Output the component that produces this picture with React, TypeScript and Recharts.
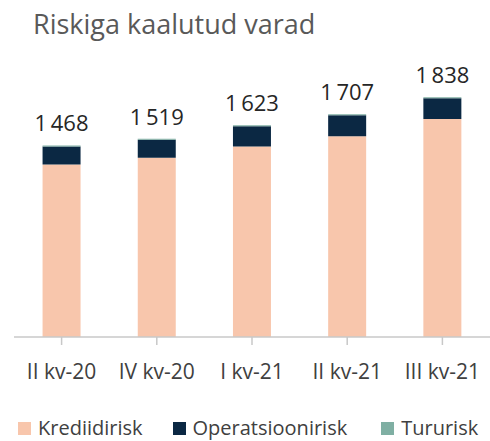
import React from 'react';
import { BarChart, Bar, XAxis, YAxis, LabelList, Legend } from 'recharts';

const categories = ['II kv-20', 'IV kv-20', 'I kv-21', 'II kv-21', 'III kv-21'];
const krediidirisk = [1322, 1373, 1460, 1539, 1670];
const operatsioonirisk = [138, 138, 155, 160, 160];
const tururisk = [8, 8, 8, 8, 8];
const totals = [1468, 1519, 1623, 1707, 1838];

const seriesNames = ['Krediidirisk', 'Operatsioonirisk', 'Tururisk'];
const colors = ['#F8C6AC', '#0B2843', '#7FAFA3'];

const data = categories.map((c, i) => ({
  name: c,
  k: krediidirisk[i],
  o: operatsioonirisk[i],
  t: tururisk[i],
  total: totals[i],
}));

const fmt = (v: number) => {
  const s = String(v);
  return s.length > 3 ? s.slice(0, s.length - 3) + '\u2009' + s.slice(-3) : s;
};

const FONT = '"Open Sans", Calibri, sans-serif';

const LegendContent = () => (
  <div style={{ display: 'flex', fontFamily: FONT, fontSize: 20, lineHeight: '22px', color: '#404040', whiteSpace: 'nowrap' }}>
    {seriesNames.map((n, i) => (
      <div key={n} style={{ display: 'flex', alignItems: 'center', marginLeft: i === 0 ? 18 : i === 1 ? 30 : 34 }}>
        <span style={{ display: 'inline-block', width: 13, height: 13, background: colors[i], marginRight: 7 }} />
        <span>{n}</span>
      </div>
    ))}
  </div>
);

export default function App() {
  return (
    <div style={{ position: 'absolute', left: 0, top: 0, width: 490, height: 441, background: '#fff' }}>
      <div style={{ position: 'absolute', left: 33, top: 5, fontFamily: FONT, fontSize: 27, color: '#595959' }}>
        Riskiga kaalutud varad
      </div>
      <BarChart
        width={490}
        height={441}
        data={data}
        margin={{ top: 76, right: 0, left: 14, bottom: 50 }}
        barCategoryGap="30%"
      >
        <XAxis
          dataKey="name"
          axisLine={{ stroke: '#C8C8C8', strokeWidth: 1.5 }}
          tickLine={{ stroke: '#C8C8C8', strokeWidth: 1.5 }}
          tickSize={8}
          interval={0}
          tick={{ fill: '#404040', fontSize: 21, fontFamily: FONT, dy: 17 }}
        />
        <YAxis hide domain={[0, 2000]} />
        <Legend
          verticalAlign="bottom"
          wrapperStyle={{ left: 0, bottom: 0, width: 490, height: 24 }}
          content={LegendContent}
        />
        <Bar dataKey="k" stackId="a" fill={colors[0]} isAnimationActive={false} />
        <Bar dataKey="o" stackId="a" fill={colors[1]} isAnimationActive={false} />
        <Bar dataKey="t" stackId="a" fill={colors[2]} isAnimationActive={false}>
          <LabelList
            dataKey="total"
            position="top"
            offset={14}
            formatter={(v: any) => fmt(Number(v))}
            style={{ fill: '#262626', fontSize: 22, fontFamily: FONT }}
          />
        </Bar>
      </BarChart>
    </div>
  );
}
